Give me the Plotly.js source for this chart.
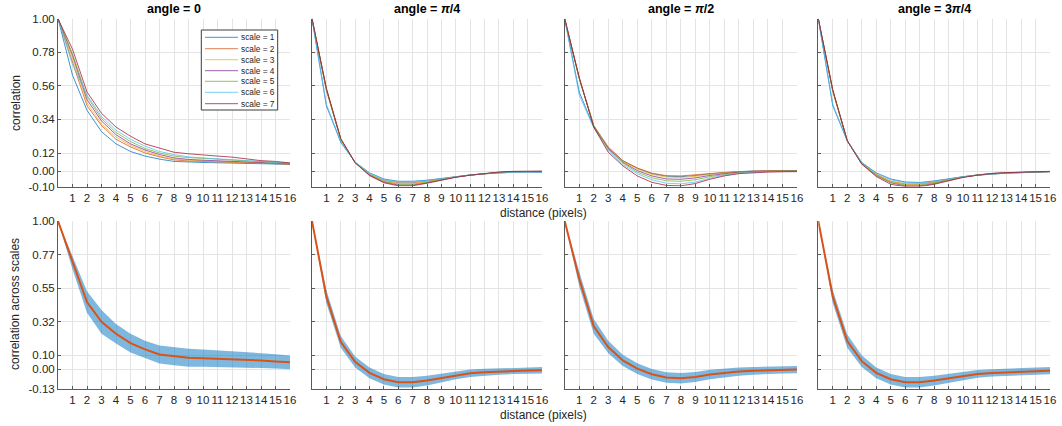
<!DOCTYPE html>
<html><head><meta charset="utf-8">
<script src="https://cdn.plot.ly/plotly-3.0.1.min.js"></script>
<style>html,body{margin:0;padding:0;background:#fff}#chart{width:1062px;height:426px}</style>
</head><body><div id="chart"></div>
<script>
// ---------------- data ----------------
const distance = [0,1,2,3,4,5,6,7,8,9,10,11,12,13,14,15,16];
const xTickVals = [1,2,3,4,5,6,7,8,9,10,11,12,13,14,15,16];
const scaleNames = ["scale = 1","scale = 2","scale = 3","scale = 4","scale = 5","scale = 6","scale = 7"];
const angleTitles = ["angle = 0","angle = <i>π</i>/4","angle = <i>π</i>/2","angle = 3<i>π</i>/4"];

const topTickVals = [-0.1, 0, 0.12, 0.34, 0.56, 0.78, 1.0];
const topTickText = ["-0.10","0.00","0.12","0.34","0.56","0.78","1.00"];
const botTickVals = [-0.13, 0, 0.096, 0.322, 0.548, 0.774, 1.0];
const botTickText = ["-0.13","0.00","0.10","0.32","0.55","0.77","1.00"];

// angle = 0, correlation per scale
const a0_s1 = [1,0.63,0.40,0.26,0.18,0.13,0.10,0.08,0.065,0.06,0.058,0.056,0.055,0.053,0.05,0.048,0.045];
const a0_s2 = [1,0.72,0.43,0.30,0.21,0.16,0.12,0.095,0.075,0.068,0.065,0.062,0.06,0.057,0.054,0.05,0.047];
const a0_s3 = [1,0.74,0.45,0.31,0.225,0.17,0.13,0.10,0.08,0.072,0.068,0.065,0.062,0.058,0.055,0.051,0.048];
const a0_s4 = [1,0.76,0.47,0.33,0.24,0.18,0.14,0.11,0.088,0.078,0.073,0.07,0.066,0.062,0.058,0.054,0.05];
const a0_s5 = [1,0.77,0.49,0.345,0.255,0.195,0.15,0.12,0.10,0.09,0.085,0.08,0.073,0.067,0.062,0.057,0.052];
const a0_s6 = [1,0.70,0.50,0.36,0.27,0.21,0.165,0.13,0.11,0.095,0.088,0.082,0.075,0.068,0.063,0.058,0.053];
const a0_s7 = [1,0.80,0.52,0.38,0.29,0.23,0.18,0.15,0.125,0.115,0.11,0.10,0.093,0.082,0.07,0.065,0.055];

// angle = pi/4
const a1_s1 = [1,0.43,0.19,0.06,-0.01,-0.05,-0.065,-0.065,-0.058,-0.045,-0.034,-0.024,-0.016,-0.01,-0.006,-0.005,-0.006];
const a1_s2 = [1,0.53,0.21,0.058,-0.02,-0.06,-0.075,-0.075,-0.065,-0.05,-0.036,-0.025,-0.015,-0.008,-0.003,-0.001,-0.002];
const a1_s3 = [1,0.535,0.21,0.058,-0.02,-0.065,-0.08,-0.08,-0.068,-0.052,-0.037,-0.025,-0.015,-0.008,-0.003,0,-0.001];
const a1_s4 = [1,0.54,0.21,0.057,-0.025,-0.07,-0.09,-0.09,-0.075,-0.055,-0.038,-0.025,-0.014,-0.006,-0.001,0.001,0];
const a1_s5 = [1,0.54,0.21,0.057,-0.022,-0.067,-0.085,-0.085,-0.072,-0.054,-0.037,-0.024,-0.014,-0.006,-0.002,0,0];
const a1_s6 = [1,0.44,0.195,0.06,-0.012,-0.055,-0.07,-0.07,-0.06,-0.047,-0.035,-0.024,-0.016,-0.01,-0.006,-0.005,-0.005];
const a1_s7 = [1,0.545,0.215,0.056,-0.028,-0.075,-0.095,-0.095,-0.078,-0.057,-0.039,-0.025,-0.014,-0.005,0,0.002,0.001];

// angle = pi/2
const a2_s1 = [1,0.52,0.29,0.155,0.07,0.02,-0.015,-0.032,-0.035,-0.028,-0.016,-0.008,-0.002,0.002,0.004,0.005,0.005];
const a2_s2 = [1,0.61,0.30,0.16,0.07,0.022,-0.012,-0.028,-0.03,-0.025,-0.015,-0.007,-0.002,0.002,0.004,0.005,0.005];
const a2_s3 = [1,0.61,0.30,0.155,0.065,0.015,-0.02,-0.038,-0.04,-0.033,-0.02,-0.01,-0.003,0.001,0.003,0.004,0.004];
const a2_s4 = [1,0.61,0.295,0.15,0.06,0.005,-0.03,-0.05,-0.052,-0.043,-0.027,-0.014,-0.005,0,0.002,0.003,0.003];
const a2_s5 = [1,0.61,0.30,0.145,0.055,-0.005,-0.042,-0.062,-0.065,-0.055,-0.035,-0.019,-0.008,-0.002,0.001,0.002,0.002];
const a2_s6 = [1,0.50,0.285,0.135,0.045,-0.015,-0.055,-0.078,-0.082,-0.07,-0.045,-0.025,-0.012,-0.005,-0.002,0,0];
const a2_s7 = [1,0.615,0.29,0.125,0.036,-0.03,-0.072,-0.092,-0.095,-0.08,-0.052,-0.03,-0.015,-0.008,-0.005,-0.003,-0.002];

// angle = 3pi/4
const a3_s1 = [1,0.43,0.20,0.058,-0.01,-0.05,-0.07,-0.073,-0.063,-0.047,-0.035,-0.025,-0.017,-0.012,-0.009,-0.006,-0.003];
const a3_s2 = [1,0.525,0.20,0.053,-0.02,-0.065,-0.083,-0.083,-0.07,-0.052,-0.036,-0.024,-0.015,-0.01,-0.008,-0.005,-0.002];
const a3_s3 = [1,0.525,0.20,0.053,-0.02,-0.065,-0.085,-0.085,-0.072,-0.053,-0.036,-0.024,-0.015,-0.01,-0.008,-0.005,-0.002];
const a3_s4 = [1,0.53,0.20,0.05,-0.028,-0.075,-0.095,-0.095,-0.08,-0.058,-0.038,-0.024,-0.014,-0.009,-0.007,-0.004,-0.001];
const a3_s5 = [1,0.53,0.20,0.05,-0.025,-0.072,-0.09,-0.09,-0.076,-0.056,-0.037,-0.024,-0.014,-0.009,-0.007,-0.004,-0.001];
const a3_s6 = [1,0.44,0.20,0.057,-0.012,-0.055,-0.075,-0.077,-0.066,-0.049,-0.035,-0.025,-0.016,-0.011,-0.008,-0.005,-0.002];
const a3_s7 = [1,0.535,0.20,0.047,-0.034,-0.085,-0.10,-0.10,-0.085,-0.062,-0.04,-0.025,-0.014,-0.009,-0.006,-0.003,0];

// correlation across scales: mean and spread
const a0_mean = [1,0.72,0.454,0.32,0.24,0.177,0.134,0.10,0.087,0.078,0.075,0.072,0.068,0.064,0.059,0.053,0.047];
const a0_sd   = [0,0.045,0.072,0.08,0.066,0.063,0.058,0.06,0.06,0.06,0.058,0.056,0.054,0.052,0.05,0.048,0.047];
const a1_mean = [1,0.49,0.185,0.05,-0.024,-0.067,-0.087,-0.087,-0.076,-0.058,-0.04,-0.027,-0.02,-0.015,-0.01,-0.008,-0.007];
const a1_sd   = [0,0.045,0.04,0.037,0.036,0.036,0.036,0.035,0.033,0.03,0.027,0.025,0.023,0.022,0.022,0.022,0.022];
const a2_mean = [1,0.61,0.29,0.15,0.06,0.005,-0.033,-0.055,-0.06,-0.052,-0.035,-0.024,-0.015,-0.01,-0.006,-0.004,-0.002];
const a2_sd   = [0,0.05,0.05,0.042,0.038,0.036,0.035,0.035,0.035,0.034,0.032,0.03,0.028,0.026,0.025,0.025,0.025];
const a3_mean = [1,0.49,0.19,0.055,-0.024,-0.067,-0.087,-0.087,-0.076,-0.06,-0.045,-0.031,-0.024,-0.02,-0.015,-0.01,-0.009];
const a3_sd   = [0,0.045,0.045,0.04,0.037,0.036,0.036,0.035,0.033,0.03,0.028,0.026,0.025,0.024,0.024,0.024,0.024];

// ---------------- build ----------------
const scaleSeries = [
  [a0_s1,a0_s2,a0_s3,a0_s4,a0_s5,a0_s6,a0_s7],
  [a1_s1,a1_s2,a1_s3,a1_s4,a1_s5,a1_s6,a1_s7],
  [a2_s1,a2_s2,a2_s3,a2_s4,a2_s5,a2_s6,a2_s7],
  [a3_s1,a3_s2,a3_s3,a3_s4,a3_s5,a3_s6,a3_s7]
];
const means = [a0_mean,a1_mean,a2_mean,a3_mean];
const sds = [a0_sd,a1_sd,a2_sd,a3_sd];

const W = 1062, H = 426;
const fx = p => p / W, fy = p => 1 - p / H;
const colX = [[58,290],[312,542],[564.7,797],[818.3,1050]];
const rowTop = [18.7,186.6], rowBot = [221,388.6];
const colors = ['#0072BD','#D95319','#EDB120','#7E2F8E','#77AC30','#4DBEEE','#A2142F'];
const FONT = 'Liberation Sans, Arial, Helvetica, sans-serif';
const TXT = '#262626';

const traces = [];
const layout = {
  width: W, height: H, margin: {l:0,r:0,t:0,b:0},
  paper_bgcolor: '#fff', plot_bgcolor: '#fff', showlegend: false,
  font: {family: FONT, color: TXT, size: 11.5},
  annotations: [], shapes: []
};

function axName(i){ return i === 1 ? '' : String(i); }

for (let c = 0; c < 4; c++) {
  for (let r = 0; r < 2; r++) {
    const idx = r * 4 + c + 1;
    const ax = axName(idx);
    const rows = r === 0 ? rowTop : rowBot;
    layout['xaxis' + ax] = {
      domain: [fx(colX[c][0]), fx(colX[c][1])], anchor: 'y' + ax,
      range: [0,16], tickvals: xTickVals, ticktext: xTickVals.map(String), tickangle: 0,
      ticklabelstandoff: 1,
      showgrid: true, gridcolor: '#e4e4e4', gridwidth: 1, zeroline: false,
      showline: true, linecolor: '#5a5a5a', linewidth: 1,
      ticks: 'inside', ticklen: 3, tickcolor: '#5a5a5a',
      tickfont: {family: FONT, size: 11.5, color: TXT}, fixedrange: true
    };
    layout['yaxis' + ax] = {
      domain: [fy(rows[1]), fy(rows[0])], anchor: 'x' + ax,
      range: r === 0 ? [-0.10, 1.0] : [-0.13, 1.0],
      tickvals: r === 0 ? topTickVals : botTickVals,
      ticktext: r === 0 ? topTickText : botTickText,
      showticklabels: c === 0,
      showgrid: true, gridcolor: '#e4e4e4', gridwidth: 1, zeroline: false,
      showline: true, linecolor: '#5a5a5a', linewidth: 1,
      ticks: 'inside', ticklen: 3, tickcolor: '#5a5a5a',
      tickfont: {family: FONT, size: 11.5, color: TXT}, fixedrange: true
    };
    if (r === 0) {
      scaleSeries[c].forEach((ys, k) => {
        traces.push({x: distance, y: ys, type: 'scatter', mode: 'lines', name: scaleNames[k],
          xaxis: 'x' + ax, yaxis: 'y' + ax, opacity: 0.75,
          line: {color: colors[k], width: 1}, hoverinfo: 'skip'});
      });
    } else {
      const m = means[c], s = sds[c];
      traces.push({x: distance, y: m.map((v,i) => v - s[i]), type: 'scatter', mode: 'lines',
        xaxis: 'x' + ax, yaxis: 'y' + ax, line: {width: 0, color: 'rgba(0,114,189,0)'}, hoverinfo: 'skip'});
      traces.push({x: distance, y: m.map((v,i) => v + s[i]), type: 'scatter', mode: 'lines',
        xaxis: 'x' + ax, yaxis: 'y' + ax, fill: 'tonexty', fillcolor: 'rgba(0,114,189,0.5)',
        line: {width: 0, color: 'rgba(0,114,189,0)'}, hoverinfo: 'skip'});
      traces.push({x: distance, y: m, type: 'scatter', mode: 'lines',
        xaxis: 'x' + ax, yaxis: 'y' + ax, line: {width: 2, color: '#D95319'}, hoverinfo: 'skip'});
    }
  }
  // column title
  layout.annotations.push({text: '<b>' + angleTitles[c] + '</b>', xref: 'paper', yref: 'paper',
    x: fx((colX[c][0] + colX[c][1]) / 2), y: fy(9.3), xanchor: 'center', yanchor: 'middle',
    showarrow: false, font: {family: FONT, size: 12.5, color: '#000'}});
}

// axis titles
layout.annotations.push({text: 'correlation', xref: 'paper', yref: 'paper', x: fx(16), y: fy(103),
  textangle: -90, xanchor: 'center', yanchor: 'middle', showarrow: false, font: {family: FONT, size: 12, color: TXT}});
layout.annotations.push({text: 'correlation across scales', xref: 'paper', yref: 'paper', x: fx(15), y: fy(304),
  textangle: -90, xanchor: 'center', yanchor: 'middle', showarrow: false, font: {family: FONT, size: 12, color: TXT}});
[213, 415].forEach(yy => layout.annotations.push({text: 'distance (pixels)', xref: 'paper', yref: 'paper',
  x: fx(543), y: fy(yy), xanchor: 'center', yanchor: 'middle', showarrow: false, borderpad: 0, font: {family: FONT, size: 12, color: TXT}}));

// legend box (drawn inside panel 1)
layout.shapes.push({type: 'rect', xref: 'paper', yref: 'paper', x0: fx(201.3), x1: fx(277.7), y0: fy(110), y1: fy(30),
  line: {color: '#3c3c3c', width: 1}, fillcolor: '#ffffff', layer: 'above'});
const legRows = [37.3,48.7,59.7,70.7,81.3,92.3,103.7];
scaleNames.forEach((nm, k) => {
  layout.shapes.push({type: 'line', xref: 'paper', yref: 'paper', x0: fx(205), x1: fx(238), y0: fy(legRows[k]), y1: fy(legRows[k]),
    line: {color: colors[k], width: 1}, opacity: 0.75, layer: 'above'});
  layout.annotations.push({text: nm, xref: 'paper', yref: 'paper', x: fx(239.5), y: fy(legRows[k]),
    xanchor: 'left', yanchor: 'middle', showarrow: false, borderpad: 0, font: {family: FONT, size: 8.3, color: TXT}});
});

Plotly.newPlot('chart', traces, layout, {staticPlot: true, displayModeBar: false});
</script></body></html>
